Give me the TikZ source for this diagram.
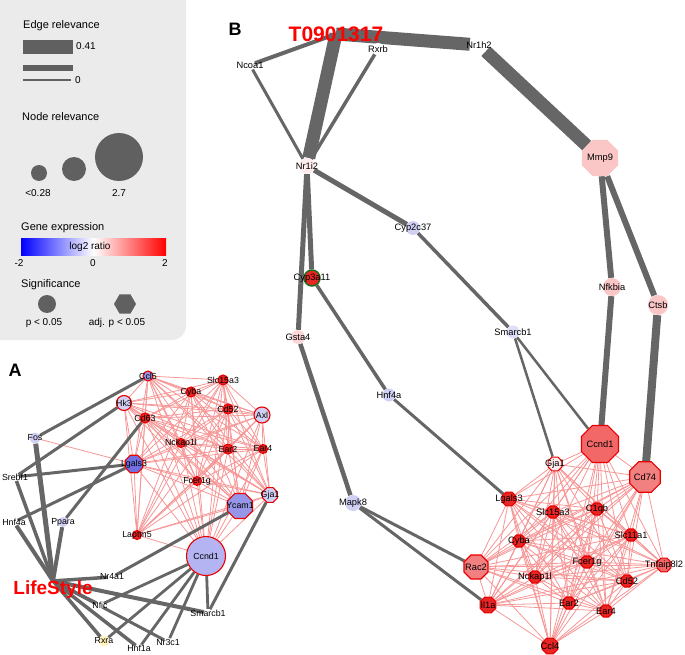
\documentclass[tikz,border=0pt]{standalone}
\usepackage{fontspec}
\setmainfont{Liberation Sans}
\usetikzlibrary{shapes.geometric, backgrounds}
\definecolor{edgegray}{RGB}{102,102,102}
\definecolor{coexpred}{RGB}{247,150,150}
\definecolor{sigred}{RGB}{232,0,0}
\definecolor{upred}{RGB}{232,38,38}
\definecolor{salmon}{RGB}{242,104,104}
\definecolor{lightsalmon}{RGB}{242,128,128}
\definecolor{lightpink}{RGB}{250,198,198}
\definecolor{palepink}{RGB}{255,236,236}
\definecolor{lightblue}{RGB}{208,208,245}
\definecolor{midblue}{RGB}{150,150,232}
\definecolor{darkblue}{RGB}{112,112,226}
\definecolor{ccndblue}{RGB}{180,180,242}
\definecolor{paleyellow}{RGB}{255,243,190}
\definecolor{legendgray}{RGB}{235,235,235}
\definecolor{markgray}{RGB}{96,96,96}
\definecolor{markgreen}{RGB}{30,110,30}
\tikzset{
    gene/.style={circle, inner sep=0pt, minimum size=#1, fill=white}, % size = node relevance
    gene/.default=8,
    sig/.style={gene=#1, draw=sigred, line width=1.1pt}, % p < 0.05
    oct/.style={regular polygon, regular polygon sides=8, inner sep=0pt, minimum size=#1},
    adjsig/.style={oct=#1, draw=sigred, line width=1.1pt}, % adj. p < 0.05
    every label/.style={inner sep=0pt},
    rel/.style={draw=edgegray, line width=#1}, % edge relevance
    coexp/.style={draw=coexpred, line width=0.8pt},
    hub/.style={text=red, font=\fontsize{19}{19}\selectfont\bfseries, inner sep=0pt},
    panel/.style={font=\fontsize{18}{18}\selectfont\bfseries, inner sep=0pt},
    legendtitle/.style={font=\fontsize{11}{11}\selectfont, anchor=west, inner sep=0pt},
    legendtext/.style={font=\fontsize{10}{10}\selectfont, inner sep=0pt},
}
\newcommand{\clusterA}{a-Ccl5,a-Slc15a3,a-Cyba,a-Hk3,a-Cd52,a-Axl,a-Cd63,a-Nckap1l,a-Ear2,a-Ear4,a-Lgals3,a-Fcer1g,a-Gja1,a-Ycam1,a-Laptm5,a-Ccnd1}
\newcommand{\clusterB}{b-Gja1,b-Ccnd1,b-Cd74,b-Lgals3,b-C1qb,b-Slc15a3,b-Slc11a1,b-Cyba,b-Fcer1g,b-Tnfaip8l2,b-Rac2,b-Nckap1l,b-Cd52,b-Il1a,b-Ear2,b-Ear4,b-Ccl4}

\begin{document}
\begin{tikzpicture}[x=1pt, y=-1pt]
\useasboundingbox (0,0) rectangle (685,655);

% legend
\fill[legendgray, rounded corners=14pt] (-20,-20) rectangle (186,340);
\node[legendtitle] (lgEdge) at (23,26) {Edge relevance};
\fill[markgray] (23,40) rectangle (73,54);
\fill[markgray] (23,65) rectangle (73,71);
\fill[markgray] (23,79) rectangle (71,81);
\node[legendtext, anchor=west] (lgEdgeMax) at (76,46) {0.41};
\node[legendtext, anchor=west] (lgEdgeMin) at (75,80) {0};
\node[legendtitle] (lgNode) at (22,117) {Node relevance};
\fill[markgray] (39,173) circle (8);
\fill[markgray] (74,169) circle (12);
\fill[markgray] (119,157) circle (24);
\node[legendtext] (lgNodeMin) at (38,193) {<0.28};
\node[legendtext] (lgNodeMax) at (119,193) {2.7};
\node[legendtitle] (lgExpr) at (21,228) {Gene expression};
\shade[left color=blue, right color=red, middle color=white] (21,238) rectangle (166,255);
\node[legendtext] (lgRatio) at (90,247) {log2 ratio};
\node[legendtext] (lgLow) at (19,263) {-2};
\node[legendtext] (lgMid) at (93,263) {0};
\node[legendtext] (lgHigh) at (165,263) {2};
\node[legendtitle] (lgSig) at (21,285) {Significance};
\node[circle, fill=markgray, minimum size=18, inner sep=0pt] (lgP) at (47,304) {};
\node[regular polygon, regular polygon sides=6, fill=markgray, minimum size=22, inner sep=0pt] (lgAdj) at (125,304) {};
\node[legendtext] (lgPtext) at (44,323) {p < 0.05};
\node[legendtext] (lgAdjtext) at (117,323) {adj. p < 0.05};

% panel A
\begin{scope}[every label/.append style={font=\fontsize{8.8}{9}\selectfont}]
\node[panel] (labA) at (15,370) {A};
\node[sig=10, fill=midblue, label=center:Ccl5] (a-Ccl5) at (148,376) {};
\node[sig=10, fill=upred, label=center:Slc15a3] (a-Slc15a3) at (223,380) {};
\node[sig=10, fill=upred, label=center:Cyba] (a-Cyba) at (191,392) {};
\node[sig=15, fill=lightblue, label=center:Hk3] (a-Hk3) at (124,403) {};
\node[sig=10, fill=upred, label=center:Cd52] (a-Cd52) at (228,409) {};
\node[sig=16, fill=lightblue, label=center:Axl] (a-Axl) at (262,415) {};
\node[sig=10, fill=upred, label=center:Cd63] (a-Cd63) at (145,418) {};
\node[sig=9, fill=upred, label=center:Nckap1l] (a-Nckap1l) at (181,443) {};
\node[sig=10, fill=upred, label=center:Ear2] (a-Ear2) at (228,449) {};
\node[sig=9, fill=upred, label=center:Ear4] (a-Ear4) at (263,449) {};
\node[adjsig=19, fill=darkblue, label=center:Lgals3] (a-Lgals3) at (134,464) {};
\node[sig=9, fill=upred, label=center:Fcer1g] (a-Fcer1g) at (197,481) {};
\node[adjsig=16, fill=lightblue, label=center:Gja1] (a-Gja1) at (270,495) {};
\node[adjsig=27, fill=midblue, label=center:Ycam1] (a-Ycam1) at (240,506) {};
\node[sig=9, fill=upred, label=center:Laptm5] (a-Laptm5) at (137,535) {};
\node[sig=39, fill=ccndblue, label=center:Ccnd1] (a-Ccnd1) at (206,556) {};
\node[gene=11, fill=lightblue, label=center:Fos] (a-Fos) at (35,438) {};
\node[gene, label=center:Srebf1] (a-Srebf1) at (15,477) {};
\node[gene, label=center:Hnf4a] (a-Hnf4a) at (14,522) {};
\node[gene=10, fill=lightblue, label=center:Ppara] (a-Ppara) at (63,522) {};
\node[gene, label=center:Nr4a1] (a-Nr4a1) at (112,577) {};
\node[gene, label=center:Nfic] (a-Nfic) at (100,605) {};
\node[gene, label=center:Smarcb1] (a-Smarcb1) at (208,613) {};
\node[gene=11, fill=paleyellow, label=center:Rxra] (a-Rxra) at (104,641) {};
\node[gene, label=center:Hnf1a] (a-Hnf1a) at (139,648) {};
\node[gene, label=center:Nr3c1] (a-Nr3c1) at (168,642) {};
\node[hub] (life) at (53,590) {LifeStyle};
\end{scope}

% panel B
\begin{scope}[every label/.append style={font=\fontsize{9.3}{10}\selectfont}]
\node[panel] (labB) at (235,29) {B};
\node[hub, font=\fontsize{21}{21}\selectfont\bfseries] (drug) at (336,34) {T0901317};
\node[gene=10, label=center:Ncoa1] (b-Ncoa1) at (250,65) {};
\node[gene=12, label=center:Rxrb] (b-Rxrb) at (378,49) {};
\node[gene=18, label=center:Nr1h2] (b-Nr1h2) at (479,45) {};
\node[gene=16, fill=palepink, label=center:Nr1i2] (b-Nr1i2) at (307,166) {};
\node[oct=39, fill=lightpink, label=center:Mmp9] (b-Mmp9) at (600,158) {};
\node[gene=14, fill=lightblue, label=center:Cyp2c37] (b-Cyp2c37) at (413,228) {};
\node[gene=16, fill=upred, draw=markgreen, line width=1.5pt, label=center:Cyp3a11] (b-Cyp3a11) at (312,278) {};
\node[gene=14, fill=lightpink!70!white, label=center:Gsta4] (b-Gsta4) at (298,337) {};
\node[gene=18, fill=lightpink, label=center:Nfkbia] (b-Nfkbia) at (612,287) {};
\node[gene=20, fill=lightpink, label=center:Ctsb] (b-Ctsb) at (658,305) {};
\node[gene=13, fill=lightblue!70!white, label=center:Smarcb1] (b-Smarcb1) at (513,332) {};
\node[gene=13, fill=lightblue, label=center:Hnf4a] (b-Hnf4a) at (389,395) {};
\node[gene=16, fill=lightblue, label=center:Mapk8] (b-Mapk8) at (353,503) {};
\node[adjsig=40, fill=salmon, label=center:Ccnd1] (b-Ccnd1) at (600,444) {};
\node[adjsig=15, fill=palepink, label=center:Gja1] (b-Gja1) at (555,464) {};
\node[adjsig=33, fill=lightsalmon, label=center:Cd74] (b-Cd74) at (645,477) {};
\node[adjsig=15, fill=upred, label=center:Lgals3] (b-Lgals3) at (509,499) {};
\node[adjsig=13, fill=upred, label=center:C1qb] (b-C1qb) at (597,509) {};
\node[adjsig=13, fill=upred, label=center:Slc15a3] (b-Slc15a3) at (553,512) {};
\node[adjsig=13, fill=upred, label=center:Slc11a1] (b-Slc11a1) at (631,535) {};
\node[adjsig=13, fill=upred, label=center:Cyba] (b-Cyba) at (519,541) {};
\node[adjsig=13, fill=upred, label=center:Fcer1g] (b-Fcer1g) at (587,562) {};
\node[adjsig=15, fill=salmon, label=center:Tnfaip8l2] (b-Tnfaip8l2) at (664,565) {};
\node[adjsig=26, fill=lightsalmon, label=center:Rac2] (b-Rac2) at (476,567) {};
\node[adjsig=13, fill=upred, label=center:Nckap1l] (b-Nckap1l) at (535,577) {};
\node[adjsig=13, fill=upred, label=center:Cd52] (b-Cd52) at (627,581) {};
\node[adjsig=17, fill=upred, label=center:Il1a] (b-Il1a) at (488,605) {};
\node[adjsig=13, fill=upred, label=center:Ear2] (b-Ear2) at (569,603) {};
\node[adjsig=13, fill=upred, label=center:Ear4] (b-Ear4) at (606,611) {};
\node[adjsig=17, fill=upred, label=center:Ccl4] (b-Ccl4) at (550,646) {};
\end{scope}

\begin{scope}[on background layer]
% co-expression edges
\foreach \u [count=\i] in \clusterA {
  \foreach \v [count=\j] in \clusterA {
    \ifnum\j>\i \draw[coexp] (\u) -- (\v); \fi
  }
}
\draw[coexp] (a-Fos) -- (a-Lgals3);
\foreach \u [count=\i] in \clusterB {
  \foreach \v [count=\j] in \clusterB {
    \ifnum\j>\i \draw[coexp] (\u) -- (\v); \fi
  }
}
% relevance edges, panel A
\draw[rel=5] (life.north) -- (a-Fos);
\draw[rel=3.5] (life.north) -- (a-Srebf1);
\draw[rel=4] (life.north) -- (a-Hnf4a);
\draw[rel=4] (life.north) -- (a-Ppara);
\draw[rel=3.5] (life.north) -- (a-Nr4a1);
\draw[rel=3.5] (life.north) -- (a-Nfic);
\draw[rel=4] (life.north) -- (a-Smarcb1);
\draw[rel=3.5] (life.north) -- (a-Rxra);
\draw[rel=3.5] (life.north) -- (a-Hnf1a);
\draw[rel=3] (life.north) -- (a-Nr3c1);
\draw[rel=3] (a-Fos) -- (a-Ccl5);
\draw[rel=3] (a-Srebf1) -- (a-Hk3);
\draw[rel=3] (a-Srebf1) -- (a-Lgals3);
\draw[rel=3] (a-Hnf4a) -- (a-Lgals3);
\draw[rel=3] (a-Ppara) -- (a-Cd63);
\draw[rel=3] (a-Nr4a1) -- (a-Ycam1);
\draw[rel=2.8] (a-Ccnd1) -- (a-Nfic);
\draw[rel=2.8] (a-Ccnd1) -- (a-Rxra);
\draw[rel=2.8] (a-Ccnd1) -- (a-Hnf1a);
\draw[rel=2.8] (a-Ccnd1) -- (a-Nr3c1);
\draw[rel=2.8] (a-Ccnd1) -- (a-Smarcb1);
\draw[rel=3] (a-Gja1) -- (a-Smarcb1);
% relevance edges, panel B
\draw[rel=13] (drug.center) -- (b-Nr1h2);
\draw[rel=13] (drug.center) -- (b-Nr1i2);
\draw[rel=4] (drug.center) -- (b-Ncoa1);
\draw[rel=3] (b-Ncoa1) -- (b-Nr1i2);
\draw[rel=3.5] (b-Rxrb) -- (b-Nr1i2);
\draw[rel=13] (b-Nr1h2) -- (b-Mmp9);
\draw[rel=5] (b-Nr1i2) -- (b-Cyp3a11);
\draw[rel=5] (b-Nr1i2) -- (b-Gsta4);
\draw[rel=5] (b-Nr1i2) -- (b-Cyp2c37);
\draw[rel=3.5] (b-Cyp2c37) -- (b-Smarcb1);
\draw[rel=3.5] (b-Cyp3a11) -- (b-Hnf4a);
\draw[rel=4.5] (b-Gsta4) -- (b-Mapk8);
\draw[rel=3] (b-Hnf4a) -- (b-Lgals3);
\draw[rel=2.5] (b-Smarcb1) -- (b-Ccnd1);
\draw[rel=2.5] (b-Smarcb1) -- (b-Gja1);
\draw[rel=6] (b-Mmp9) -- (b-Nfkbia);
\draw[rel=6] (b-Mmp9) -- (b-Ctsb);
\draw[rel=6] (b-Nfkbia) -- (b-Ccnd1);
\draw[rel=8] (b-Ctsb) -- (b-Cd74);
\draw[rel=3] (b-Mapk8) -- (b-Rac2);
\draw[rel=3] (b-Mapk8) -- (b-Il1a);
\end{scope}
\end{tikzpicture}
\end{document}
